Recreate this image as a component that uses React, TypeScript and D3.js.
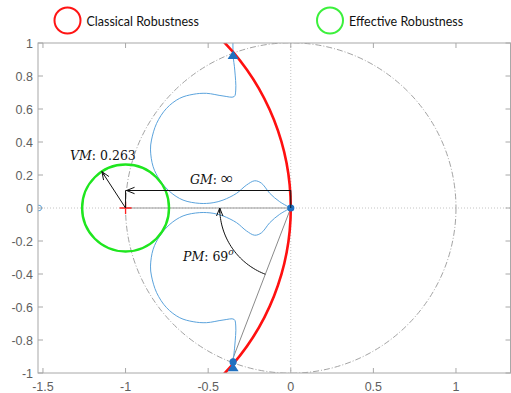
import React from 'react';
import * as d3 from 'd3';

// upper branch of the Nyquist curve (lower branch is its conjugate)
const nyqRe = [-0.349, -0.349, -0.339, -0.333, -0.343, -0.41, -0.51, -0.591, -0.672, -0.752, -0.812, -0.843, -0.849, -0.833, -0.793, -0.732, -0.652, -0.551, -0.47, -0.41, -0.328, -0.268, -0.218, -0.177, -0.127, -0.067, 0];
const nyqIm = [1.08, 0.927, 0.836, 0.715, 0.675, 0.679, 0.695, 0.689, 0.665, 0.604, 0.513, 0.412, 0.352, 0.25, 0.17, 0.099, 0.048, 0.028, 0.032, 0.048, 0.089, 0.139, 0.165, 0.15, 0.089, 0.038, 0];

const xTicks = [-1.5, -1, -0.5, 0, 0.5, 1];
const yTicks = [1, 0.8, 0.6, 0.4, 0.2, 0, -0.2, -0.4, -0.6, -0.8, -1];

const criticalPoint = [-1, 0];
const vectorMargin = 0.263;
const vmAngle = 123; // degrees, direction of the VM arrow
const phaseMargin = 69;
const gmBracketY = 0.106;
const pmArcRadius = 0.43;
const classicalCenter = -1.45;
const classicalRadius = 1.45;
const triangleMarkers = [[-0.349, 0.927], [-0.349, -0.965]];
const dotMarkers = [[0, 0], [-0.349, -0.933]];

const W = 511, H = 393;
const L = 38, R = 510.5, T = 43, B = 373;

export default function App() {
  const x = d3.scaleLinear().domain([-1.53, 1.33]).range([L, R]);
  const y = d3.scaleLinear().domain([-1, 1]).range([B, T]);
  const k = x(1) - x(0);

  const upper = nyqRe.map((r, i) => [r, nyqIm[i]] as [number, number]);
  const lower = upper.slice(1).map(([r, im]) => [r, -im] as [number, number]).reverse();
  const line = d3.line<[number, number]>().x(d => x(d[0])).y(d => y(d[1])).curve(d3.curveCatmullRom.alpha(0.5));

  const [cx, cy] = criticalPoint;
  const vmRad = (vmAngle * Math.PI) / 180;
  const vmEnd = [cx + vectorMargin * Math.cos(vmRad), cy + vectorMargin * Math.sin(vmRad)];

  const pmRad = ((-180 + phaseMargin) * Math.PI) / 180;
  const pmPoint = [Math.cos(pmRad), Math.sin(pmRad)];
  const arcPts = d3.range(0, 41).map(i => {
    const a = pmRad + ((-Math.PI - pmRad) * i) / 40;
    return [pmArcRadius * Math.cos(a), pmArcRadius * Math.sin(a)] as [number, number];
  });
  const plainLine = d3.line<[number, number]>().x(d => x(d[0])).y(d => y(d[1]));

  const arrowHead = (px: number, py: number, ang: number) => {
    // ang: direction the arrow points (screen radians)
    const len = 8, wid = 3.2;
    const bx = px - len * Math.cos(ang), by = py - len * Math.sin(ang);
    const nx = -Math.sin(ang), ny = Math.cos(ang);
    return `M${bx + nx * wid},${by + ny * wid} L${px},${py} L${bx - nx * wid},${by - ny * wid} M${px},${py} L${bx + Math.cos(ang) * 3},${by + Math.sin(ang) * 3}`;
  };

  const axisCol = '#a8a8a8';
  const tickCol = '#5f5f5f';
  const blue = '#5ba3dc';
  const darkBlue = '#1f70c0';
  const green = '#1fe61f';

  const vmAngScreen = Math.atan2(y(vmEnd[1]) - y(cy), x(vmEnd[0]) - x(cx));

  return (
    <div style={{ position: 'fixed', left: 0, top: 0 }}>
      <svg width={W} height={H} style={{ display: 'block', background: '#fff' }}>
        <defs>
          <clipPath id="plot">
            <rect x={L} y={T} width={R - L} height={B - T} />
          </clipPath>
        </defs>

        {/* legend */}
        <circle cx={67.5} cy={20.5} r={13} fill="none" stroke="#ff1414" strokeWidth={2} />
        <text x={86.5} y={25.5} fontFamily="Lato, 'Open Sans', sans-serif" fontSize={12.5} fill="#111">Classical Robustness</text>
        <circle cx={330} cy={20.5} r={13} fill="none" stroke="#3cf03c" strokeWidth={2} />
        <text x={349} y={25.5} fontFamily="Lato, 'Open Sans', sans-serif" fontSize={12.5} fill="#111">Effective Robustness</text>

        <g clipPath="url(#plot)">
          {/* zero lines */}
          <line x1={L} x2={R} y1={y(0)} y2={y(0)} stroke="#b5b5b5" strokeWidth={0.8} strokeDasharray="1 2" />
          <line x1={x(0)} x2={x(0)} y1={T} y2={B} stroke="#b5b5b5" strokeWidth={0.8} strokeDasharray="1 2" />
          {/* unit circle */}
          <circle cx={x(0)} cy={y(0)} r={k} fill="none" stroke="#8c8c8c" strokeWidth={0.8} strokeDasharray="6 2 1 2" />
          {/* gray reference lines */}
          <line x1={x(cx)} x2={x(0)} y1={y(0)} y2={y(0)} stroke="#9a9a9a" strokeWidth={1.2} />
          <line x1={x(0)} x2={x(pmPoint[0])} y1={y(0)} y2={y(pmPoint[1])} stroke="#8a8a8a" strokeWidth={1} />
          {/* nyquist curve */}
          <path d={line(upper) || ''} fill="none" stroke={blue} strokeWidth={1} />
          <path d={line(lower) || ''} fill="none" stroke={blue} strokeWidth={1} />
          <circle cx={x(-1.525)} cy={y(0)} r={2.8} fill="#fff" stroke={blue} strokeWidth={1} />
          {/* classical robustness */}
          <circle cx={x(classicalCenter)} cy={y(0)} r={classicalRadius * k} fill="none" stroke="#ff1010" strokeWidth={2.6} />
          {/* effective robustness */}
          <circle cx={x(cx)} cy={y(cy)} r={vectorMargin * k} fill="none" stroke={green} strokeWidth={2.4} />
          {/* markers */}
          {dotMarkers.map((d, i) => (
            <circle key={'d' + i} cx={x(d[0])} cy={y(d[1])} r={3.6} fill={darkBlue} />
          ))}
          {triangleMarkers.map((d, i) => (
            <path key={'t' + i} d={`M${x(d[0])},${y(d[1]) - 4.5} L${x(d[0]) + 5.5},${y(d[1]) + 4} L${x(d[0]) - 5.5},${y(d[1]) + 4}Z`} fill={darkBlue} />
          ))}
          {/* critical point */}
          <line x1={x(cx) - 6} x2={x(cx) + 6} y1={y(cy)} y2={y(cy)} stroke="#ff2020" strokeWidth={1.3} />
          <line x1={x(cx)} x2={x(cx)} y1={y(cy) - 6} y2={y(cy) + 6} stroke="#ff2020" strokeWidth={1.3} />
        </g>

        {/* GM bracket */}
        <g stroke="#111" strokeWidth={1} fill="none">
          <line x1={x(0)} x2={x(0)} y1={y(0)} y2={y(gmBracketY)} />
          <line x1={x(cx)} x2={x(cx)} y1={y(0)} y2={y(gmBracketY)} />
          <line x1={x(0)} x2={x(cx)} y1={y(gmBracketY)} y2={y(gmBracketY)} />
          <path d={arrowHead(x(cx) + 1, y(gmBracketY), Math.PI)} />
          {/* VM arrow */}
          <line x1={x(cx)} y1={y(cy)} x2={x(vmEnd[0])} y2={y(vmEnd[1])} />
          <path d={arrowHead(x(vmEnd[0]), y(vmEnd[1]), vmAngScreen)} />
          {/* PM arc */}
          <path d={plainLine(arcPts) || ''} />
          <path d={arrowHead(x(-pmArcRadius), y(0), -Math.PI / 2)} />
        </g>

        {/* labels */}
        <g fontFamily="'DejaVu Serif', 'Liberation Serif', serif" fontSize={12.5} fill="#111">
          <text x={70} y={160}><tspan fontStyle="italic">VM</tspan>: 0.263</text>
          <text x={190} y={184}><tspan fontStyle="italic">GM</tspan>: <tspan fontSize={17} fontFamily="'Liberation Serif', serif">∞</tspan></text>
          <text x={183} y={261}><tspan fontStyle="italic">PM</tspan>: 69<tspan fontStyle="italic" fontSize={9} dy={-6}>o</tspan></text>
        </g>

        {/* axes box */}
        <rect x={L} y={T} width={R - L} height={B - T} fill="none" stroke={axisCol} strokeWidth={1} />
        <g stroke={axisCol} strokeWidth={1}>
          {xTicks.map(t => (
            <g key={'x' + t}>
              <line x1={x(t)} x2={x(t)} y1={B} y2={B - 5} />
              <line x1={x(t)} x2={x(t)} y1={T} y2={T + 5} />
            </g>
          ))}
          {yTicks.map(t => (
            <g key={'y' + t}>
              <line x1={L} x2={L + 5} y1={y(t)} y2={y(t)} />
              <line x1={R} x2={R - 5} y1={y(t)} y2={y(t)} />
            </g>
          ))}
        </g>
        <g fontFamily="'Liberation Sans', Arial, sans-serif" fontSize={12.5} fill={tickCol}>
          {xTicks.map(t => (
            <text key={'xl' + t} x={x(t)} y={390.5} textAnchor="middle">{String(t)}</text>
          ))}
          {yTicks.map(t => (
            <text key={'yl' + t} x={33} y={y(t)} dy="0.36em" textAnchor="end">{String(t)}</text>
          ))}
        </g>
      </svg>
    </div>
  );
}
